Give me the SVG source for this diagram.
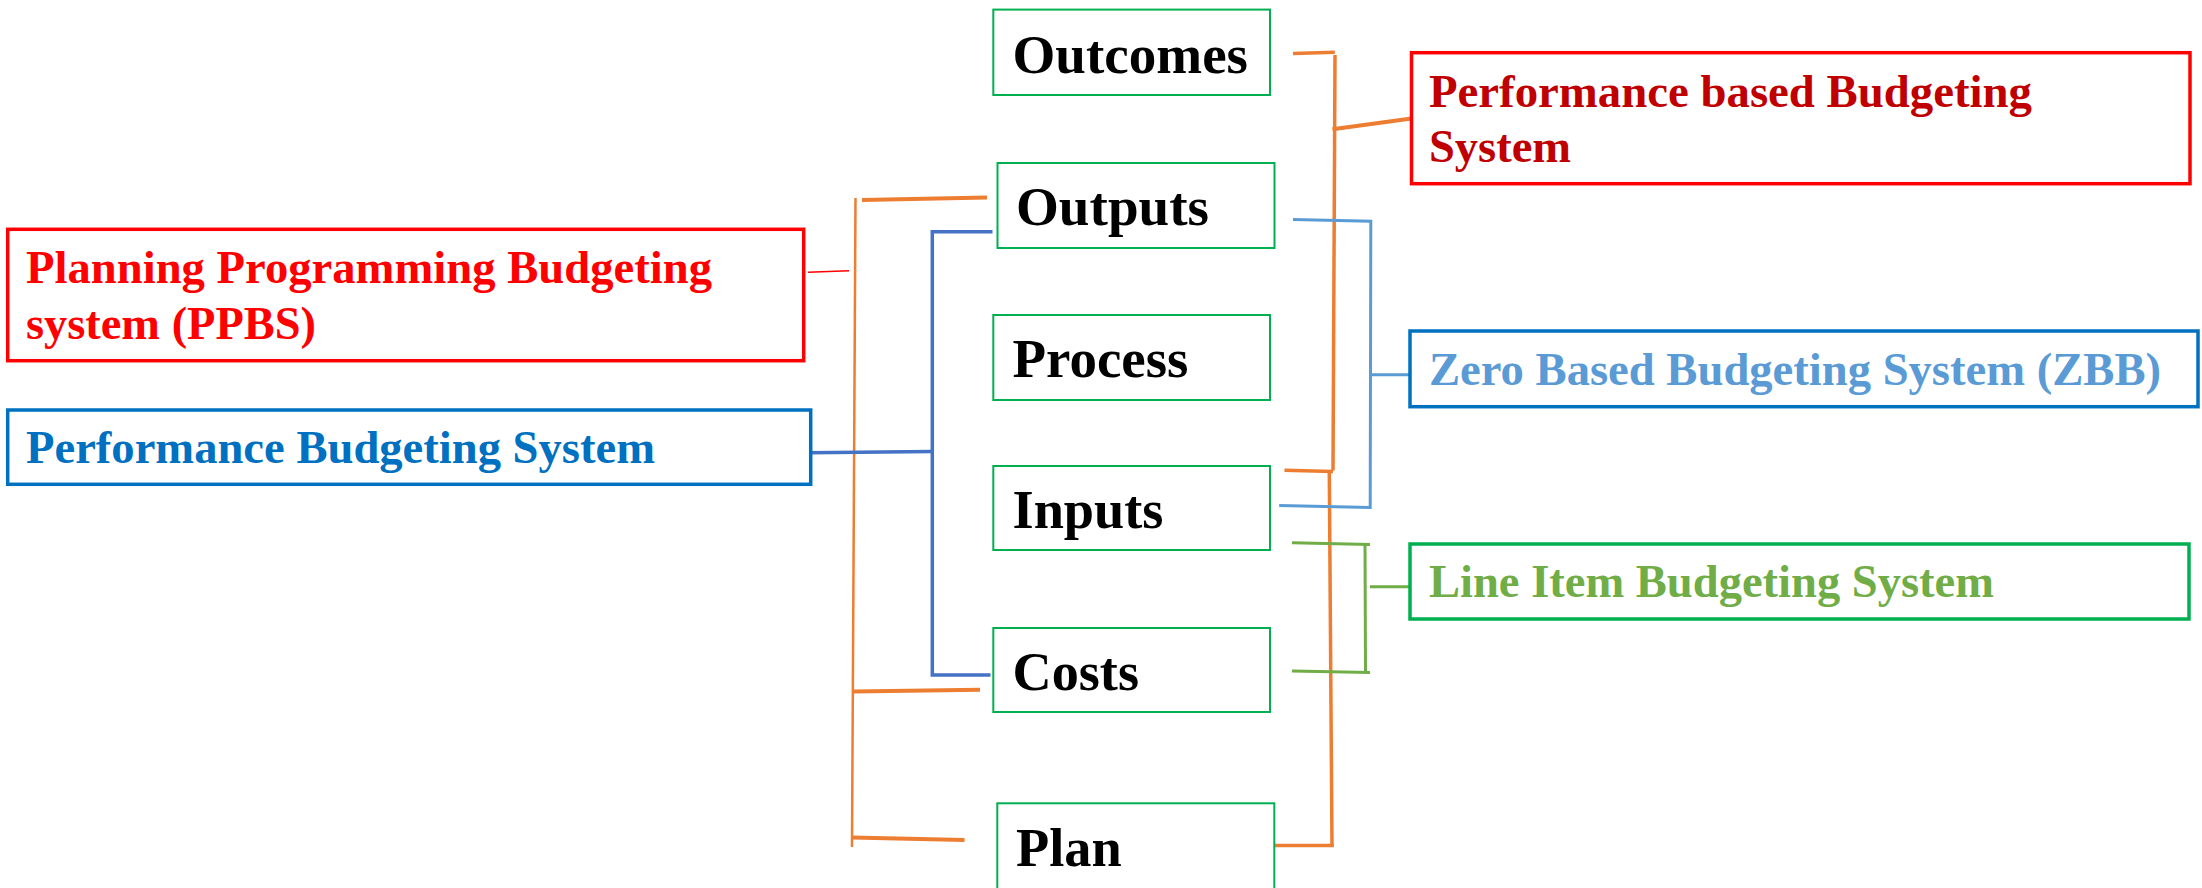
<svg xmlns="http://www.w3.org/2000/svg" width="2202" height="888" viewBox="0 0 2202 888">
  <style>
    .box { fill: #ffffff; }
    .green { stroke: #00B050; stroke-width: 2; }
    .red { stroke: #FF0000; stroke-width: 3.5; }
    .blue { stroke: #0070C0; stroke-width: 3.5; }
    .lgreen { stroke: #00B050; stroke-width: 3.5; }
    .t { font-family: "Liberation Serif", "Times New Roman", serif; font-weight: bold; }
    .c { font-size: 55px; fill: #000000; }
    .s { font-size: 46px; }
    .orange { stroke: #ED7D31; fill: none; stroke-linecap: butt; }
    .bl { stroke: #4472C4; fill: none; stroke-width: 3.5; }
    .lb { stroke: #5B9BD5; fill: none; stroke-width: 3; }
    .gr { stroke: #70AD47; fill: none; stroke-width: 3; }
  </style>
  <rect width="2202" height="888" fill="#ffffff"/>

  <g id="connectors">
    <!-- left orange bracket (PPBS) -->
    <line class="orange" stroke-width="2.5" x1="855.5" y1="198" x2="852" y2="847"/>
    <line class="orange" stroke-width="4" x1="862" y1="200" x2="987" y2="197.5"/>
    <line class="orange" stroke-width="4" x1="854" y1="691.5" x2="980" y2="689.8"/>
    <line class="orange" stroke-width="4" x1="852" y1="837.5" x2="964.5" y2="840"/>
    <line stroke="#FF0000" stroke-width="1.5" x1="808" y1="272.3" x2="849" y2="270.7"/>

    <!-- blue bracket (Performance Budgeting System) -->
    <polyline class="bl" points="992.5,231.7 932.3,231.7 932.3,675 990.5,675"/>
    <line class="bl" x1="808.7" y1="452.7" x2="932.3" y2="451.5"/>

    <!-- right orange bracket (Performance based Budgeting System) -->
    <polyline class="orange" stroke-width="3.5" points="1293,53.6 1334.8,52.2"/>
    <line class="orange" stroke-width="3.5" x1="1335" y1="55" x2="1333" y2="470.5"/>
    <line class="orange" stroke-width="4" x1="1332.5" y1="129.3" x2="1411.5" y2="118.5"/>
    <line class="orange" stroke-width="3.5" x1="1284.5" y1="470.2" x2="1333" y2="471.6"/>
    <line class="orange" stroke-width="3.5" x1="1329.3" y1="471" x2="1332" y2="847"/>
    <line class="orange" stroke-width="3.5" x1="1274.5" y1="845.4" x2="1333.7" y2="845.4"/>

    <!-- light blue bracket (ZBB) -->
    <polyline class="lb" points="1293,219.5 1370.8,221.2 1370.2,509"/>
    <line class="lb" x1="1279.2" y1="505.5" x2="1370.2" y2="507.6"/>
    <line class="lb" stroke-width="3.5" x1="1370.2" y1="374.8" x2="1409.7" y2="374.8"/>

    <!-- green bracket (Line Item) -->
    <line class="gr" x1="1292" y1="542.7" x2="1370" y2="544.4"/>
    <line class="gr" stroke-width="3.5" x1="1365" y1="544.4" x2="1365.5" y2="672.5"/>
    <line class="gr" x1="1292" y1="671" x2="1370" y2="672.6"/>
    <line class="gr" stroke-width="3.5" x1="1370" y1="586.7" x2="1409.7" y2="586.7"/>
  </g>

  <g id="outcomes">
    <rect class="box green" x="993.3" y="9.6" width="276.7" height="85.4"/>
    <text class="t c" x="1012.5" y="72.7" textLength="235.5" lengthAdjust="spacingAndGlyphs">Outcomes</text>
  </g>
  <g id="outputs">
    <rect class="box green" x="997.5" y="163" width="277" height="85"/>
    <text class="t c" x="1016" y="225" textLength="193" lengthAdjust="spacingAndGlyphs">Outputs</text>
  </g>
  <g id="process">
    <rect class="box green" x="993.3" y="315" width="276.7" height="85"/>
    <text class="t c" x="1012.5" y="377" textLength="176" lengthAdjust="spacingAndGlyphs">Process</text>
  </g>
  <g id="inputs">
    <rect class="box green" x="993.3" y="466" width="276.7" height="84"/>
    <text class="t c" x="1012.5" y="528" textLength="151" lengthAdjust="spacingAndGlyphs">Inputs</text>
  </g>
  <g id="costs">
    <rect class="box green" x="993.3" y="628" width="276.7" height="84"/>
    <text class="t c" x="1012.5" y="690" textLength="126.5" lengthAdjust="spacingAndGlyphs">Costs</text>
  </g>
  <g id="plan">
    <rect class="box green" x="997.3" y="803.3" width="277" height="86"/>
    <text class="t c" x="1016" y="866" textLength="105.7" lengthAdjust="spacingAndGlyphs">Plan</text>
  </g>

  <g id="ppbs">
    <rect class="box red" x="7.7" y="229.3" width="796" height="131.4"/>
    <text class="t s" fill="#FF0000" x="26" y="282.5" textLength="686" lengthAdjust="spacingAndGlyphs">Planning Programming Budgeting</text>
    <text class="t s" fill="#FF0000" x="26" y="339.3" textLength="290" lengthAdjust="spacingAndGlyphs">system (PPBS)</text>
  </g>
  <g id="pbs">
    <rect class="box blue" x="7.7" y="410" width="803" height="74.3"/>
    <text class="t s" fill="#0070C0" x="26" y="463" textLength="629" lengthAdjust="spacingAndGlyphs">Performance Budgeting System</text>
  </g>
  <g id="pbbs">
    <rect class="box red" x="1411.5" y="52.7" width="778.5" height="131"/>
    <text class="t s" fill="#C00000" x="1429" y="106.7" textLength="603" lengthAdjust="spacingAndGlyphs">Performance based Budgeting</text>
    <text class="t s" fill="#C00000" x="1429" y="162" textLength="142" lengthAdjust="spacingAndGlyphs">System</text>
  </g>
  <g id="zbb">
    <rect class="box blue" x="1410" y="331" width="788" height="75.7"/>
    <text class="t s" fill="#5B9BD5" x="1429" y="385" textLength="732" lengthAdjust="spacingAndGlyphs">Zero Based Budgeting System (ZBB)</text>
  </g>
  <g id="lineitem">
    <rect class="box lgreen" x="1410" y="544" width="779" height="75"/>
    <text class="t s" fill="#70AD47" x="1429" y="597" textLength="565" lengthAdjust="spacingAndGlyphs">Line Item Budgeting System</text>
  </g>
</svg>
